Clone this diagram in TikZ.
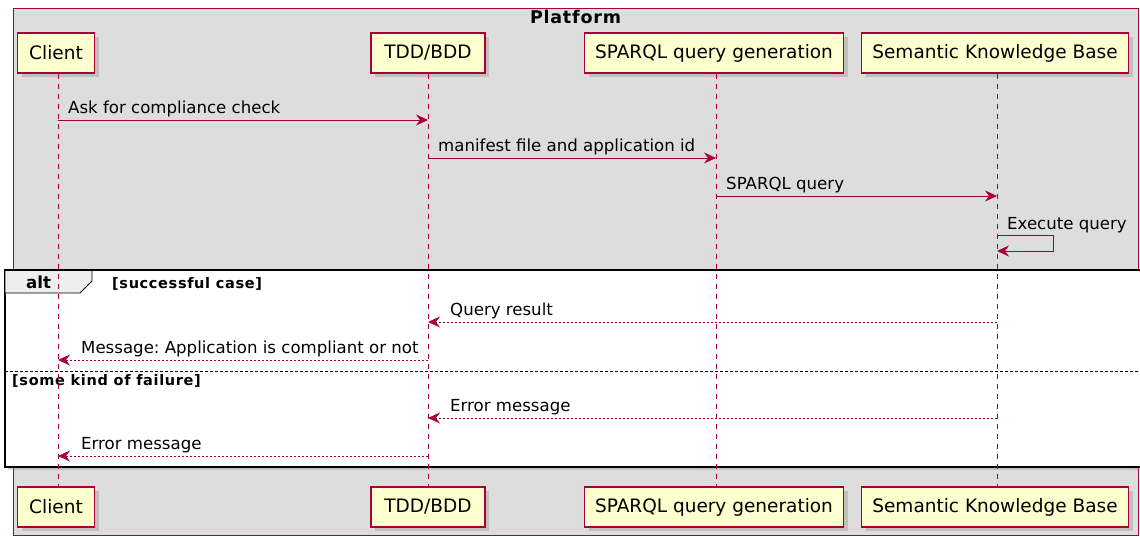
\documentclass[tikz,border=0pt]{standalone}
\usepackage{fontspec}
\setmainfont{DejaVu Sans}
\newfontfamily\spacedbold[LetterSpace=4.5]{DejaVu Sans Bold}
\usetikzlibrary{arrows.meta,shadows}
\definecolor{crim}{HTML}{A80036}
\definecolor{partfill}{HTML}{FEFECE}
\definecolor{platbg}{HTML}{DDDDDD}
\definecolor{tabfill}{HTML}{EEEEEE}
\tikzset{
 part/.style={draw=crim, line width=1.1pt, fill=partfill, minimum height=40pt, inner sep=0pt,
   font=\fontsize{18.5}{20}\selectfont, drop shadow={opacity=0.3, shadow xshift=4pt, shadow yshift=-4pt}},
 lifeline/.style={draw=crim, line width=1pt, dash pattern=on 5pt off 5pt},
 msg/.style={draw=crim, line width=1pt, -{Stealth[length=12pt,width=11pt,inset=4pt]}},
 ret/.style={msg, dash pattern=on 2pt off 2pt},
 mlabel/.style={anchor=base west, inner sep=0pt, font=\fontsize{16.6}{19}\selectfont},
 seclabel/.style={anchor=base west, inner sep=0pt, font=\fontsize{14.5}{17}\spacedbold},
}
\frenchspacing
\begin{document}
\begin{tikzpicture}[x=1pt,y=-1pt]
\clip (0,0) rectangle (1140,536);
% platform box
\draw[fill=platbg, draw=crim, line width=0.9pt] (13,8) rectangle (1138,535);
\node[anchor=base, inner sep=0pt, font=\fontsize{17.5}{20}\spacedbold] (ptitle) at (575.5,23) {Platform};
% alt frame
\draw[fill=white, line width=2.4pt, drop shadow={opacity=0.3, shadow xshift=3pt, shadow yshift=-3pt}] (5,270) rectangle (1148,467);
\draw[fill=tabfill, line width=0.9pt] (5,270) -- (92,270) -- (92,281) -- (80,293) -- (5,293) -- cycle;
\draw[line width=2.4pt] (5,270) -- (1148,270);
\node[anchor=base west, inner sep=0pt, font=\fontsize{16.6}{19}\selectfont\bfseries] (alt) at (26,288) {alt};
\node[seclabel] (s1) at (112,288) {[successful case]};
\draw[black, line width=0.8pt, dash pattern=on 3pt off 2pt] (5,371) -- (1140,371);
\node[seclabel] (s2) at (12,385) {[some kind of failure]};
% participants
\node[part, minimum width=77pt] (cT) at (56,53) {Client};
\node[part, minimum width=114pt] (tT) at (428,53) {TDD/BDD};
\node[part, minimum width=259pt] (qT) at (714,53) {SPARQL query generation};
\node[part, minimum width=267pt] (kT) at (995,53) {Semantic Knowledge Base};
\node[part, minimum width=77pt] (cB) at (56,507) {Client};
\node[part, minimum width=114pt] (tB) at (428,507) {TDD/BDD};
\node[part, minimum width=259pt] (qB) at (714,507) {SPARQL query generation};
\node[part, minimum width=267pt] (kB) at (995,507) {Semantic Knowledge Base};
% lifelines
\draw[lifeline] ([xshift=2pt]cT.south) -- ([xshift=2pt]cB.north);
\draw[lifeline] (tT.south) -- (tB.north);
\draw[lifeline] ([xshift=2pt]qT.south) -- ([xshift=2pt]qB.north);
\draw[lifeline] ([xshift=2pt]kT.south) -- ([xshift=2pt]kB.north);
% message end points
\coordinate (a1) at (58,120);  \coordinate (b1) at (428,120);
\coordinate (a2) at (428,158); \coordinate (b2) at (716,158);
\coordinate (a3) at (716,196); \coordinate (b3) at (997,196);
\coordinate (a4) at (997,235); \coordinate (p4) at (1053,235); \coordinate (q4) at (1053,251); \coordinate (b4) at (997,251);
\coordinate (a5) at (997,322); \coordinate (b5) at (428,322);
\coordinate (a6) at (428,360); \coordinate (b6) at (58,360);
\coordinate (a7) at (997,418); \coordinate (b7) at (428,418);
\coordinate (a8) at (428,456); \coordinate (b8) at (58,456);
% messages
\draw[msg] (a1) -- (b1);
\node[mlabel] (l1) at (68,113) {Ask for compliance check};
\draw[msg] (a2) -- (b2);
\node[mlabel] (l2) at (438,151) {manifest file and application id};
\draw[msg] (a3) -- (b3);
\node[mlabel] (l3) at (726,189) {SPARQL query};
\draw[msg] (a4) -- (p4) -- (q4) -- (b4);
\node[mlabel] (l4) at (1007,229) {Execute query};
\draw[ret] (a5) -- (b5);
\node[mlabel] (l5) at (450,315) {Query result};
\draw[ret] (a6) -- (b6);
\node[mlabel] (l6) at (81,353) {Message: Application is compliant or not};
\draw[ret] (a7) -- (b7);
\node[mlabel] (l7) at (450,411) {Error message};
\draw[ret] (a8) -- (b8);
\node[mlabel] (l8) at (81,449) {Error message};
\end{tikzpicture}
\end{document}
